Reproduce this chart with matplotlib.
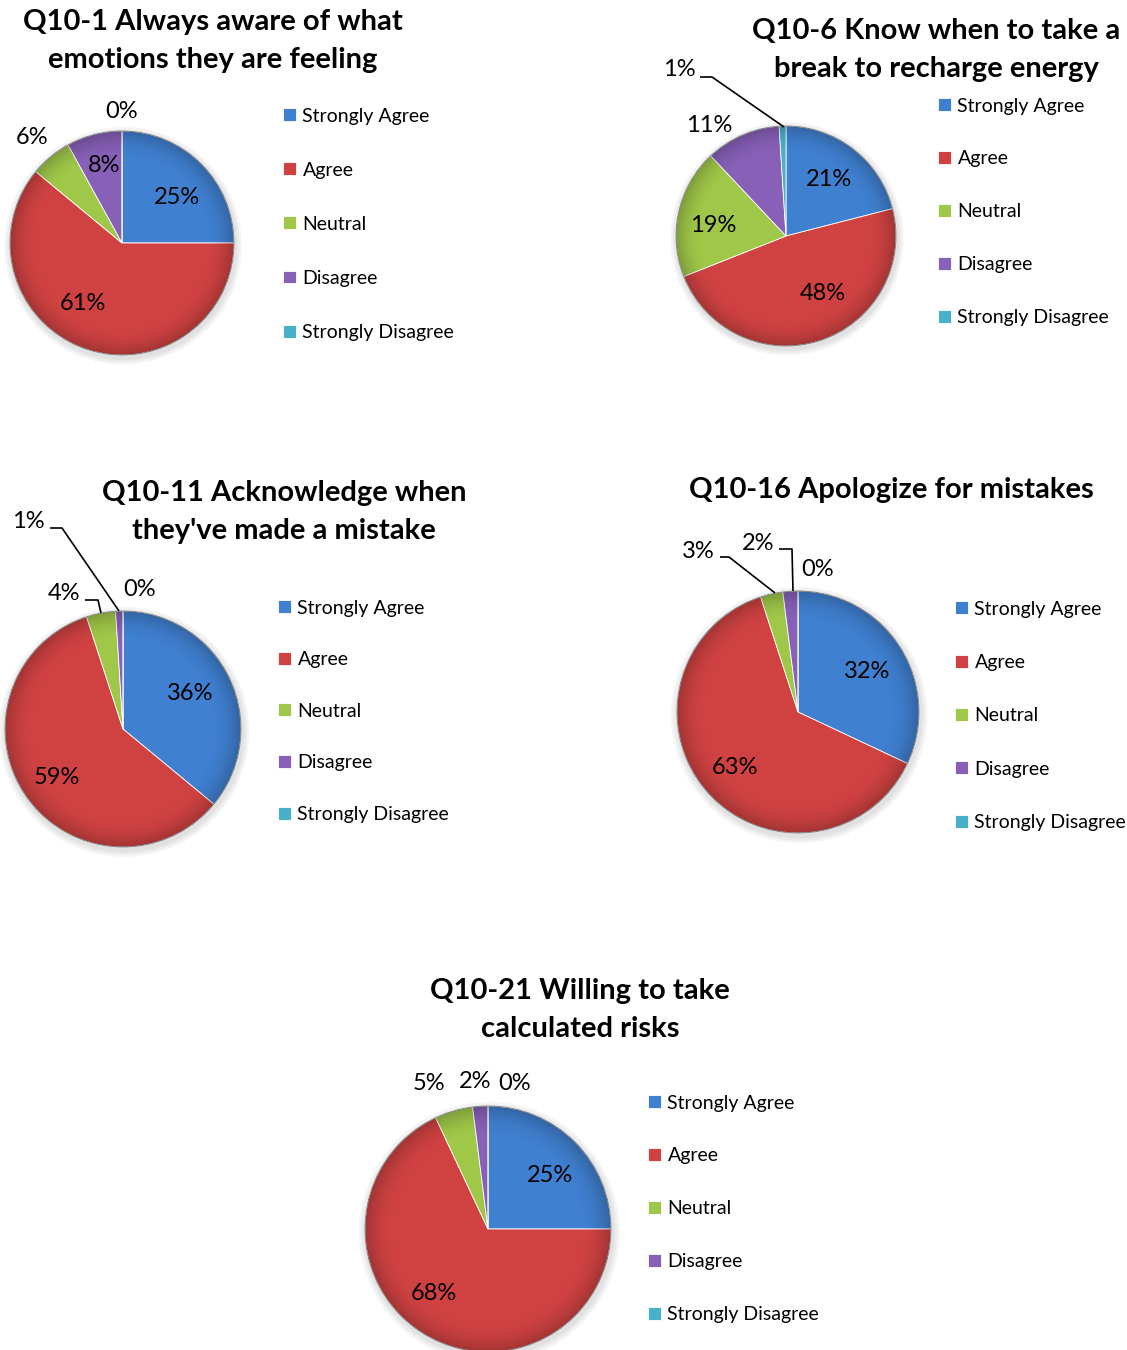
import numpy as np
import matplotlib.pyplot as plt
from matplotlib.patches import Circle

plt.rcParams['font.family'] = ['Lato', 'DejaVu Sans']

W, H = 1127, 1350

categories = ['Strongly Agree', 'Agree', 'Neutral', 'Disagree', 'Strongly Disagree']
colors = ['#4080D0', '#D04242', '#A0C848', '#8860B8', '#48B0C8']

# survey answers, percent of respondents
q10_1 = [25, 61, 6, 8, 0]
q10_6 = [21, 48, 19, 11, 1]
q10_11 = [36, 59, 4, 1, 0]
q10_16 = [32, 63, 3, 2, 0]
q10_21 = [25, 68, 5, 2, 0]

titles = [
    'Q10-1 Always aware of what\nemotions they are feeling',
    'Q10-6 Know when to take a\nbreak to recharge energy',
    "Q10-11 Acknowledge when\nthey've made a mistake",
    'Q10-16 Apologize for mistakes',
    'Q10-21 Willing to take\ncalculated risks',
]

# page layout in pixels: title centre, pie centre/radius, legend marker x,
# first legend row y, row pitch, label positions, leader polylines
layout = [
    dict(title=(213, 41), center=(122, 243), r=112, leg=(283, 116, 54),
         labels=[(177, 198), (83, 304), (32, 138), (104, 166), (122, 112)],
         leaders=[]),
    dict(title=(936, 50), center=(786, 236), r=110, leg=(938, 106, 52.75),
         labels=[(829, 180), (823, 294), (713, 226), (709, 126), (679, 69)],
         leaders=[[(700, 77), (712, 77), (784, 127)]]),
    dict(title=(284, 512), center=(123, 729), r=118, leg=(278, 608, 51.5),
         labels=[(190, 693), (57, 777), (64, 593), (28, 521), (140, 589)],
         leaders=[[(85, 600), (98, 600), (101, 613)],
                  [(50, 528), (62, 528), (119, 611)]]),
    dict(title=(891, 490), center=(798, 712), r=121, leg=(955, 609, 53.25),
         labels=[(867, 671), (735, 767), (698, 551), (758, 543), (818, 569)],
         leaders=[[(720, 557), (729, 557), (775, 593)],
                  [(779, 549), (792, 549), (793, 591)]]),
    dict(title=(580, 1010), center=(488, 1229), r=123, leg=(648, 1103, 52.75),
         labels=[(550, 1176), (434, 1293), (429, 1083), (475, 1082), (515, 1083)],
         leaders=[]),
]

series = [q10_1, q10_6, q10_11, q10_16, q10_21]

fig = plt.figure(figsize=(W / 100, H / 100), dpi=100)
fig.patch.set_facecolor('white')

L = 2.0  # half-width of each pie axes, in radii

# radial rim shading laid over every pie
g = np.linspace(-1, 1, 400)
gx, gy = np.meshgrid(g, g)
rr = np.sqrt(gx ** 2 + gy ** 2)
shade = np.zeros((400, 400, 4))
shade[..., 3] = np.clip((rr - 0.75) / 0.25, 0, 1) ** 2 * 0.22

for vals, title, lay in zip(series, titles, layout):
    cx, cy = lay['center']
    r = lay['r']
    ax = fig.add_axes([(cx - L * r) / W, (H - cy - L * r) / H,
                       2 * L * r / W, 2 * L * r / H])

    def to_data(x, y):
        return (x - cx) / r, (cy - y) / r

    # soft drop shadow
    for k in range(3):
        ax.add_patch(Circle((0.01, -0.025), 1 + 0.02 * (k + 1),
                            color='black', alpha=0.04, lw=0, zorder=0))

    wedges, _ = ax.pie(vals, colors=colors, startangle=90, counterclock=False,
                       radius=1, wedgeprops=dict(edgecolor='#ffffff', linewidth=0.6))
    for w in wedges:
        w.set_zorder(1)

    im = ax.imshow(shade, extent=(-1, 1, -1, 1), zorder=2, interpolation='bilinear')
    im.set_clip_path(Circle((0, 0), 1, transform=ax.transData))
    ax.add_patch(Circle((0, 0), 1, fill=False, edgecolor='#7a7a7a', lw=0.6, zorder=3))

    ax.set_xlim(-L, L)
    ax.set_ylim(-L, L)
    ax.set_aspect('equal')
    ax.axis('off')

    for v, (x, y) in zip(vals, lay['labels']):
        dx, dy = to_data(x, y)
        ax.text(dx, dy, f'{v}%', ha='center', va='center', fontsize=17,
                color='black', zorder=5)

    for pts in lay['leaders']:
        xs, ys = zip(*[to_data(x, y) for x, y in pts])
        ax.plot(xs, ys, color='black', lw=1.2, zorder=4, solid_capstyle='butt')

    tx, ty = lay['title']
    fig.text(tx / W, 1 - ty / H, title, ha='center', va='center',
             fontsize=21, fontweight='bold', linespacing=1.55)

    lx, ly, pitch = lay['leg']
    fs = 14
    fs_px = fs * 100 / 72
    row_h = 15.7 * fs / 13
    ax.legend(wedges, categories, loc='upper left',
              bbox_to_anchor=(lx / W, 1 - (ly - row_h / 2) / H),
              bbox_transform=fig.transFigure, frameon=False, fontsize=fs,
              borderpad=0, borderaxespad=0, handlelength=0.65, handleheight=0.65,
              handletextpad=0.35, labelspacing=(pitch - row_h) / fs_px)

fig.savefig('out.png', dpi=100)
